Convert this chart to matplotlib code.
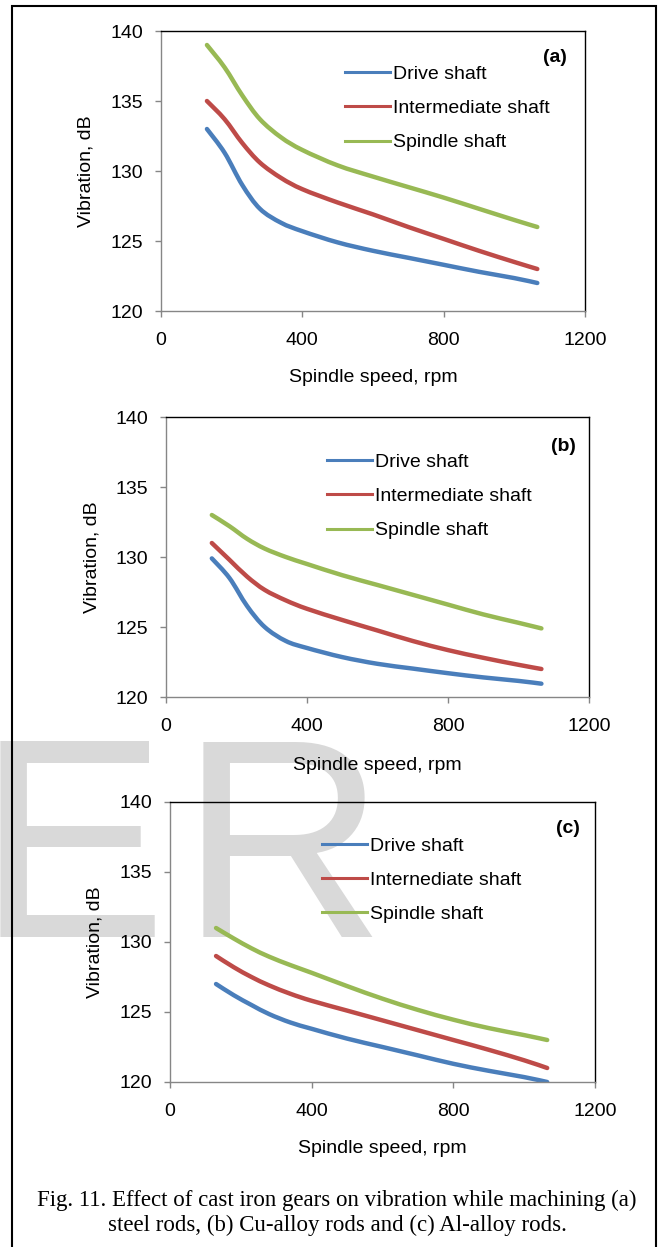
import matplotlib
matplotlib.use("Agg")
import matplotlib.pyplot as plt
from matplotlib.patches import Rectangle, PathPatch
from matplotlib.path import Path
from matplotlib.lines import Line2D

W, H = 667, 1247

# spindle speed (rpm)
speed = [130, 180, 230, 280, 340, 400, 500, 600, 700, 800, 900, 1000, 1065]

# (a) steel rods
drive_a = [133.0, 131.3, 129.0, 127.3, 126.3, 125.7, 124.9, 124.3, 123.8, 123.3, 122.8, 122.35, 122.0]
inter_a = [135.0, 133.7, 132.0, 130.6, 129.5, 128.7, 127.75, 126.9, 126.0, 125.15, 124.3, 123.5, 123.0]
spind_a = [139.0, 137.4, 135.4, 133.7, 132.4, 131.5, 130.4, 129.6, 128.85, 128.1, 127.3, 126.5, 126.0]

# (b) Cu-alloy rods
drive_b = [129.9, 128.5, 126.5, 125.0, 124.0, 123.5, 122.85, 122.37, 122.03, 121.7, 121.4, 121.15, 120.95]
inter_b = [131.0, 129.8, 128.6, 127.65, 126.9, 126.3, 125.5, 124.75, 124.0, 123.35, 122.8, 122.3, 122.0]
spind_b = [133.0, 132.2, 131.3, 130.6, 130.0, 129.5, 128.7, 128.0, 127.3, 126.6, 125.9, 125.3, 124.9]

# (c) Al-alloy rods
drive_c = [127.0, 126.2, 125.5, 124.85, 124.25, 123.8, 123.1, 122.5, 121.9, 121.3, 120.8, 120.35, 120.0]
inter_c = [129.0, 128.2, 127.5, 126.9, 126.3, 125.8, 125.1, 124.4, 123.7, 123.0, 122.3, 121.55, 121.0]
spind_c = [131.0, 130.25, 129.55, 128.95, 128.35, 127.8, 126.85, 125.95, 125.15, 124.45, 123.85, 123.35, 123.0]

names_ab = ["Drive shaft", "Intermediate shaft", "Spindle shaft"]
names_c = ["Drive shaft", "Internediate shaft", "Spindle shaft"]
colors = ["#4A7EBB", "#BE4B48", "#98B954"]

x_ticks = [0, 400, 800, 1200]
y_ticks = [120, 125, 130, 135, 140]


def smooth_path(xs, ys):
    # Excel-style smoothed line: cubic bezier through every point
    pts = list(zip(xs, ys))
    n = len(pts)
    verts = [pts[0]]
    codes = [Path.MOVETO]
    for i in range(n - 1):
        p0 = pts[i - 1] if i > 0 else pts[i]
        p1 = pts[i]
        p2 = pts[i + 1]
        p3 = pts[i + 2] if i + 2 < n else pts[i + 1]
        c1 = (p1[0] + (p2[0] - p0[0]) / 6, p1[1] + (p2[1] - p0[1]) / 6)
        c2 = (p2[0] - (p3[0] - p1[0]) / 6, p2[1] - (p3[1] - p1[1]) / 6)
        verts += [c1, c2, p2]
        codes += [Path.CURVE4] * 3
    return Path(verts, codes)


plt.rcParams['font.family'] = ['Liberation Sans', 'DejaVu Sans']

fig = plt.figure(figsize=(W / 100, H / 100), dpi=100)

# watermark behind everything
fig.text(-23 / W, 1 - 937 / H, "E", fontsize=205, color="#d9d9d9", zorder=-5,
         ha="left", va="baseline")
fig.text(180 / W, 1 - 937 / H, "R", fontsize=205, color="#d9d9d9", zorder=-5,
         ha="left", va="baseline")

# outer frame
fig.patches.append(Rectangle((12 / W, -0.01), 644 / W, 1 - 6 / H + 0.01,
                             transform=fig.transFigure, fill=False,
                             edgecolor="black", linewidth=1.5, zorder=1))

panels = [
    # box px (l, t, r, b), series, names, tag, legend anchor, tag pos, xlabel y
    ((161, 31, 585, 311), (drive_a, inter_a, spind_a), names_ab, "(a)",
     (0.434, 0.878), (0.929, 0.907), -0.236),
    ((166, 417, 589, 697), (drive_b, inter_b, spind_b), names_ab, "(b)",
     (0.381, 0.871), (0.939, 0.896), -0.243),
    ((170, 802, 595, 1082), (drive_c, inter_c, spind_c), names_c, "(c)",
     (0.358, 0.875), (0.936, 0.904), -0.236),
]

for box, series, names, tag, leg_xy, tag_xy, xl_y in panels:
    l, t, r, b = box
    ax = fig.add_axes([l / W, 1 - b / H, (r - l) / W, (b - t) / H])
    ax.set_facecolor("none")
    handles = []
    for vals, name, col in zip(series, names, colors):
        ax.add_patch(PathPatch(smooth_path(speed, vals), fill=False,
                               edgecolor=col, lw=3.2, capstyle="round",
                               joinstyle="round"))
        handles.append(Line2D([], [], color=col, lw=2.2, label=name))
    ax.set_xlim(0, 1200)
    ax.set_ylim(120, 140)
    ax.set_xticks(x_ticks)
    ax.set_yticks(y_ticks)
    ax.tick_params(labelsize=14, length=4, width=1, color="#868686",
                   direction="out")
    ax.tick_params(axis="x", pad=11)
    ax.tick_params(axis="y", pad=9)
    for s in ["top", "right"]:
        ax.spines[s].set_color("black")
    for s in ["left", "bottom"]:
        ax.spines[s].set_color("#868686")
    for s in ax.spines.values():
        s.set_linewidth(1)

    ax.set_xlabel("Spindle speed, rpm", fontsize=14, va="center")
    ax.xaxis.set_label_coords(0.5, xl_y)
    ax.set_ylabel("Vibration, dB", fontsize=14, va="center")
    ax.yaxis.set_label_coords(-0.176, 0.5)

    ax.legend(handles=handles, loc="upper left", bbox_to_anchor=leg_xy,
              frameon=False, fontsize=14, handlelength=2.3,
              handletextpad=0.15, labelspacing=0.86, borderpad=0,
              borderaxespad=0)

    ax.text(tag_xy[0], tag_xy[1], tag, transform=ax.transAxes, fontsize=14,
            fontweight="bold", ha="center", va="center")

fig.text(337 / W, 1 - 1200 / H,
         "Fig. 11. Effect of cast iron gears on vibration while machining (a)",
         family="Liberation Serif", fontsize=16.5, ha="center", va="center")
fig.text(337 / W, 1 - 1225 / H,
         "steel rods, (b) Cu-alloy rods and (c) Al-alloy rods.",
         family="Liberation Serif", fontsize=16.5, ha="center", va="center")

fig.savefig("out.png", dpi=100)
